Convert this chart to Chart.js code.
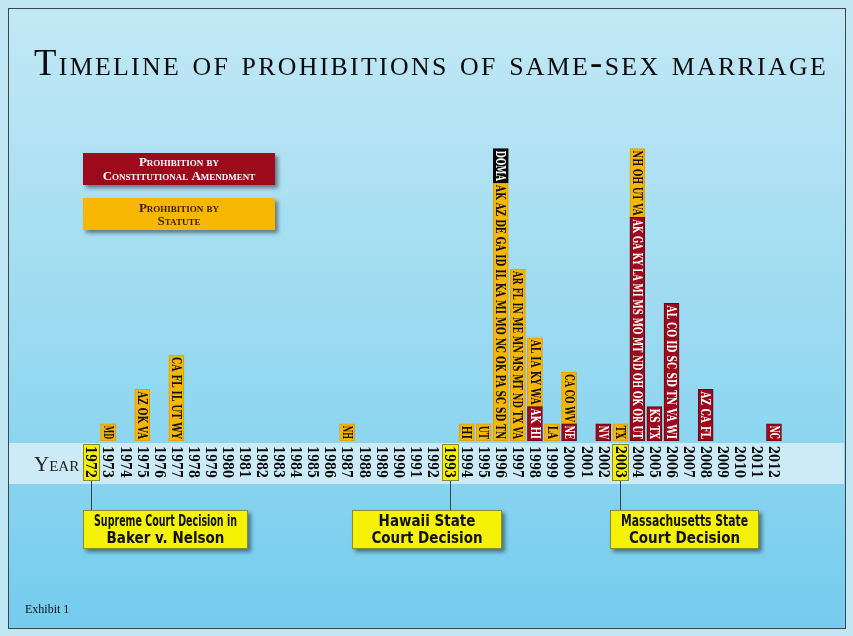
<!DOCTYPE html>
<html>
<head>
<meta charset="utf-8">
<script src="https://cdn.jsdelivr.net/npm/chart.js@4.4.1/dist/chart.umd.min.js"></script>
<style>
  html, body { margin: 0; padding: 0; background: #c2e7f4; }
  #wrap { width: 853px; height: 636px; }
</style>
</head>
<body>
<div id="wrap"><canvas id="timeline" width="853" height="636"></canvas></div>
<script>
const years = ['1972','1973','1974','1975','1976','1977','1978','1979','1980','1981',
  '1982','1983','1984','1985','1986','1987','1988','1989','1990','1991','1992','1993',
  '1994','1995','1996','1997','1998','1999','2000','2001','2002','2003','2004','2005',
  '2006','2007','2008','2009','2010','2011','2012'];

// prohibition by constitutional amendment (bottom of each stack)
const amendmentStates = [
  ['1998', 'AK HI'],
  ['2000', 'NE'],
  ['2002', 'NV'],
  ['2004', 'AK GA KY LA MI MS MO MT ND OH OK OR UT'],
  ['2005', 'KS TX'],
  ['2006', 'AL CO ID SC SD TN VA WI'],
  ['2008', 'AZ CA FL'],
  ['2012', 'NC']
];

// prohibition by statute
const statuteStates = [
  ['1973', 'MD'],
  ['1975', 'AZ OK VA'],
  ['1977', 'CA FL IL UT WY'],
  ['1987', 'NH'],
  ['1994', 'HI'],
  ['1995', 'UT'],
  ['1996', 'AK AZ DE GA ID IL KA MI MO NC OK PA SC SD TN'],
  ['1997', 'AR FL IN ME MN MS MT ND TX VA'],
  ['1998', 'AL IA KY WA'],
  ['1999', 'LA'],
  ['2000', 'CA CO WV'],
  ['2003', 'TX'],
  ['2004', 'NH OH UT VA']
];

// federal Defense of Marriage Act, sits on top of 1996
const domaYears = [['1996', 'DOMA']];
const domaSize = 2;

const courtYears = ['1972', '1993', '2003'];
const courtNotes = [
  ['Supreme Court Decision in', 'Baker v. Nelson'],
  ['Hawaii State', 'Court Decision'],
  ['Massachusetts State', 'Court Decision']
];

function perYear(list, size) {
  const counts = years.map(() => 0);
  const names = years.map(() => '');
  list.forEach(([yr, txt]) => {
    const i = years.indexOf(yr);
    names[i] = txt;
    counts[i] = size || txt.split(' ').length;
  });
  return { counts, names };
}
const amend = perYear(amendmentStates);
const statute = perYear(statuteStates);
const doma = perYear(domaYears, domaSize);

const W = 853, H = 636;

function box(ctx, x, y, w, h, fill, stroke, shadow) {
  ctx.save();
  if (shadow) {
    ctx.shadowColor = 'rgba(0,0,0,0.45)';
    ctx.shadowOffsetX = 3; ctx.shadowOffsetY = 3; ctx.shadowBlur = 4;
  }
  ctx.fillStyle = fill;
  ctx.fillRect(x, y, w, h);
  ctx.restore();
  if (stroke) {
    ctx.strokeStyle = stroke; ctx.lineWidth = 1;
    ctx.strokeRect(x + 0.5, y + 0.5, w - 1, h - 1);
  }
}

// font shorthand resets the stretch, so set it afterwards
function narrow(ctx, font) {
  ctx.font = font;
  ctx.fontStretch = 'condensed';
}

const backdrop = {
  id: 'backdrop',
  beforeDraw(chart) {
    const ctx = chart.ctx, xs = chart.scales.x;
    ctx.save();
    ctx.fillStyle = '#c2e7f4';
    ctx.fillRect(0, 0, W, H);
    const g = ctx.createLinearGradient(0, 8, 0, 628);
    g.addColorStop(0, '#c3e8f5');
    g.addColorStop(0.68, '#8ed6f0');
    g.addColorStop(1, '#74ccee');
    ctx.fillStyle = g;
    ctx.fillRect(8, 8, 837, 620);
    ctx.strokeStyle = '#3b474c'; ctx.lineWidth = 1;
    ctx.strokeRect(8.5, 8.5, 837, 620);

    // title
    ctx.save();
    ctx.fillStyle = '#0c0c0c';
    ctx.textAlign = 'center'; ctx.textBaseline = 'alphabetic';
    ctx.font = 'small-caps 37px "Liberation Serif", serif';
    ctx.letterSpacing = '2.3px';
    ctx.fillText('Timeline of prohibitions of same-sex marriage', 431, 75, 794);
    ctx.restore();

    // legend
    box(ctx, 83, 153, 192, 32, '#9d0a1b', null, true);
    box(ctx, 83, 198, 192, 32, '#f6b602', null, true);
    ctx.font = 'small-caps bold 13px "Liberation Serif", serif';
    ctx.textAlign = 'center'; ctx.textBaseline = 'middle';
    ctx.fillStyle = '#fff';
    ctx.fillText('Prohibition by', 179, 163, 180);
    ctx.fillText('Constitutional Amendment', 179, 177, 180);
    ctx.fillStyle = '#3a1e00';
    ctx.fillText('Prohibition by', 179, 209, 180);
    ctx.fillText('Statute', 179, 222, 180);

    // year band
    ctx.fillStyle = 'rgba(214,238,247,0.88)';
    ctx.fillRect(9, 443, 835, 41);
    ctx.fillStyle = '#222';
    ctx.textAlign = 'left'; ctx.textBaseline = 'alphabetic';
    ctx.font = 'small-caps 21px "Liberation Serif", serif';
    ctx.fillText('Year', 34, 471);

    // court decision boxes and connectors
    const notePos = [[83, 165], [352, 150], [610, 149]];
    courtYears.forEach((yr, k) => {
      const px = Math.round(xs.getPixelForValue(years.indexOf(yr))) + 0.5;
      ctx.strokeStyle = '#35444a'; ctx.lineWidth = 1;
      ctx.beginPath(); ctx.moveTo(px, 481); ctx.lineTo(px, 511); ctx.stroke();
      const [bx, bw] = notePos[k];
      box(ctx, bx, 510, bw, 39, '#f6f205', '#8b8a32', true);
      ctx.save();
      ctx.fillStyle = '#111';
      ctx.textAlign = 'center'; ctx.textBaseline = 'middle';
      narrow(ctx, 'bold 15px "DejaVu Sans", sans-serif');
      ctx.fillText(courtNotes[k][0], bx + bw / 2, 522, bw - 22);
      ctx.fillText(courtNotes[k][1], bx + bw / 2, 539, bw - 22);
      ctx.restore();
    });

    // year labels, read top to bottom
    years.forEach((yr, i) => {
      const px = xs.getPixelForValue(i);
      if (courtYears.includes(yr)) {
        box(ctx, Math.round(px) - 8, 444, 17, 37, '#f4f000', '#8b8a32', false);
      }
      ctx.save();
      ctx.translate(px, 462);
      ctx.rotate(Math.PI / 2);
      ctx.fillStyle = '#0a0a0a';
      ctx.textAlign = 'center'; ctx.textBaseline = 'middle';
      narrow(ctx, 'bold 14px "DejaVu Serif", serif');
      ctx.fillText(yr, 0, 1, 32);
      ctx.restore();
    });

    ctx.fillStyle = '#111';
    ctx.textAlign = 'left'; ctx.textBaseline = 'alphabetic';
    ctx.font = '12px "Liberation Serif", serif';
    ctx.fillText('Exhibit 1', 25, 613);
    ctx.restore();
  }
};

const stateText = {
  id: 'stateText',
  afterDatasetsDraw(chart) {
    const ctx = chart.ctx;
    chart.data.datasets.forEach((ds, d) => {
      chart.getDatasetMeta(d).data.forEach((bar, j) => {
        const txt = ds.states[j];
        if (!txt) return;
        const { x, y, base } = bar.getProps(['x', 'y', 'base'], true);
        ctx.save();
        ctx.translate(x, (y + base) / 2);
        ctx.rotate(Math.PI / 2);
        ctx.fillStyle = ds.textColor;
        ctx.textAlign = 'center'; ctx.textBaseline = 'middle';
        narrow(ctx, 'bold 13px "DejaVu Serif", serif');
        ctx.fillText(txt, 0, 1, base - y - 4);
        ctx.restore();
      });
    });
  }
};

new Chart(document.getElementById('timeline'), {
  type: 'bar',
  data: {
    labels: years,
    datasets: [
      {
        label: 'Prohibition by Constitutional Amendment',
        data: amend.counts, states: amend.names, textColor: '#fff',
        backgroundColor: '#9d0a1b', borderColor: '#6a0612'
      },
      {
        label: 'Prohibition by Statute',
        data: statute.counts, states: statute.names, textColor: '#111',
        backgroundColor: '#f6b602', borderColor: '#e29c00'
      },
      {
        label: 'DOMA',
        data: doma.counts, states: doma.names, textColor: '#fff',
        backgroundColor: '#050505', borderColor: '#000'
      }
    ]
  },
  options: {
    responsive: false,
    animation: false,
    layout: { padding: { left: 82.5, right: 70.5, top: 97, bottom: 195 } },
    datasets: { bar: { barThickness: 15, borderWidth: 1, borderSkipped: false } },
    scales: {
      x: { stacked: true, display: false },
      y: { stacked: true, display: false, min: 0, max: 20 }
    },
    plugins: { legend: { display: false }, tooltip: { enabled: false } }
  },
  plugins: [backdrop, stateText]
});
</script>
</body>
</html>
